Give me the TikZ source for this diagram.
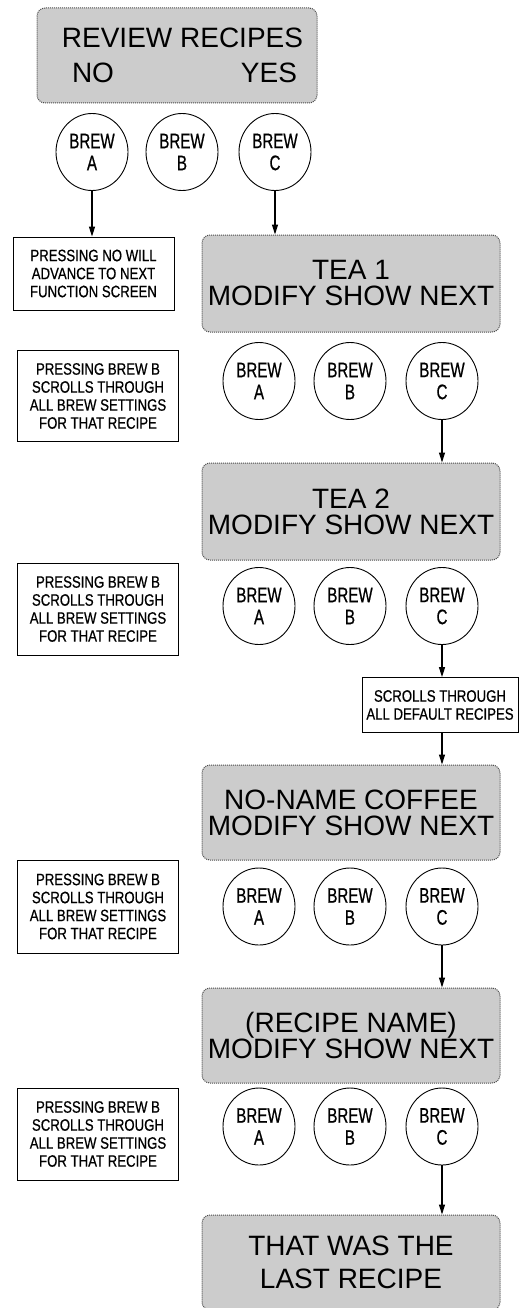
\documentclass[tikz,border=0pt]{standalone}
\usepackage{fontspec}
\setmainfont{Liberation Sans}
\newfontfamily\noteFont[FakeStretch=0.8,FakeBold=0.6]{Liberation Sans}
\newfontfamily\btnFont[FakeStretch=0.72,FakeBold=0.6]{Liberation Sans}
\usetikzlibrary{shapes.geometric,arrows.meta}
\begin{document}
\begin{tikzpicture}[x=1pt,y=-1pt,
  screen/.style={draw=black!70, densely dotted, line width=1pt, fill=black!20,
    rounded corners=8pt, minimum width=298pt, minimum height=96pt,
    inner sep=0pt, align=center, font=\fontsize{28}{26}\selectfont},
  btn/.style={ellipse, draw, line width=0.9pt, minimum width=72pt,
    minimum height=77pt, inner sep=0pt, align=center,
    font=\btnFont\fontsize{21}{22}\selectfont},
  note/.style={draw, line width=0.8pt, minimum width=161pt, minimum height=91pt,
    inner sep=0pt, align=center, font=\noteFont\fontsize{16.5}{18}\selectfont},
  arr/.style={line width=1.2pt, -{Triangle[length=10pt,width=6pt]}}]
\useasboundingbox (0,0) rectangle (520,1308);
\fill[white] (0,0) rectangle (520,1308);

% top screen
\node[screen, minimum width=280pt, minimum height=95pt, font=\fontsize{28}{35}\selectfont] (rev) at (177,55.5)
  {\hspace*{11pt}REVIEW RECIPES\\\hspace*{15pt}\makebox[225pt]{NO\hfill YES}};
\node[btn] (a1) at (92,152) {BREW\\A};
\node[btn] (b1) at (182,152) {BREW\\B};
\node[btn] (c1) at (275,152) {BREW\\C};

\node[note, minimum height=73pt] (n0) at (93.5,273.5) {PRESSING NO WILL\\ADVANCE TO NEXT\\FUNCTION SCREEN};

% TEA 1
\node[screen, minimum height=97pt] (tea1) at (351,283.5) {TEA 1\\MODIFY SHOW NEXT};
\node[note] (n1) at (98,396) {PRESSING BREW B\\SCROLLS THROUGH\\ALL BREW SETTINGS\\FOR THAT RECIPE};
\node[btn] (a2) at (259,381) {BREW\\A};
\node[btn] (b2) at (350,381) {BREW\\B};
\node[btn] (c2) at (442,381) {BREW\\C};

% TEA 2
\node[screen, minimum height=97pt] (tea2) at (351,511.5) {TEA 2\\MODIFY SHOW NEXT};
\node[note, minimum height=92pt] (n2) at (98,609) {PRESSING BREW B\\SCROLLS THROUGH\\ALL BREW SETTINGS\\FOR THAT RECIPE};
\node[btn] (a3) at (259,606) {BREW\\A};
\node[btn] (b3) at (350,606) {BREW\\B};
\node[btn] (c3) at (442,606) {BREW\\C};

\node[note, minimum width=156pt, minimum height=55pt] (scr) at (440,705) {SCROLLS THROUGH\\ALL DEFAULT RECIPES};

% NO-NAME COFFEE
\node[screen, minimum height=95pt] (nn) at (351,812.5) {NO-NAME COFFEE\\MODIFY SHOW NEXT};
\node[note, minimum height=93pt] (n3) at (98,906.5) {PRESSING BREW B\\SCROLLS THROUGH\\ALL BREW SETTINGS\\FOR THAT RECIPE};
\node[btn] (a4) at (259,906.5) {BREW\\A};
\node[btn] (b4) at (350,906.5) {BREW\\B};
\node[btn] (c4) at (442,906.5) {BREW\\C};

% (RECIPE NAME)
\node[screen, minimum height=95pt] (rn) at (351,1035.5) {(RECIPE NAME)\\MODIFY SHOW NEXT};
\node[note, minimum height=92pt] (n4) at (98,1134) {PRESSING BREW B\\SCROLLS THROUGH\\ALL BREW SETTINGS\\FOR THAT RECIPE};
\node[btn] (a5) at (259,1126.5) {BREW\\A};
\node[btn] (b5) at (350,1126.5) {BREW\\B};
\node[btn] (c5) at (442,1126.5) {BREW\\C};

% last
\node[screen, minimum height=95pt, font=\fontsize{28}{33}\selectfont] (last) at (351,1262.5) {THAT WAS THE\\LAST RECIPE};

% connectors
\draw[arr] (a1.south) -- (a1.south |- n0.north);
\draw[arr] (c1.south) -- (c1.south |- tea1.north);
\draw[arr] (c2.south) -- (c2.south |- tea2.north);
\draw[arr] (c3.south) -- (c3.south |- scr.north);
\draw[arr] (c3.south |- scr.south) -- (c3.south |- nn.north);
\draw[arr] (c4.south) -- (c4.south |- rn.north);
\draw[arr] (c5.south) -- (c5.south |- last.north);
\end{tikzpicture}
\end{document}
